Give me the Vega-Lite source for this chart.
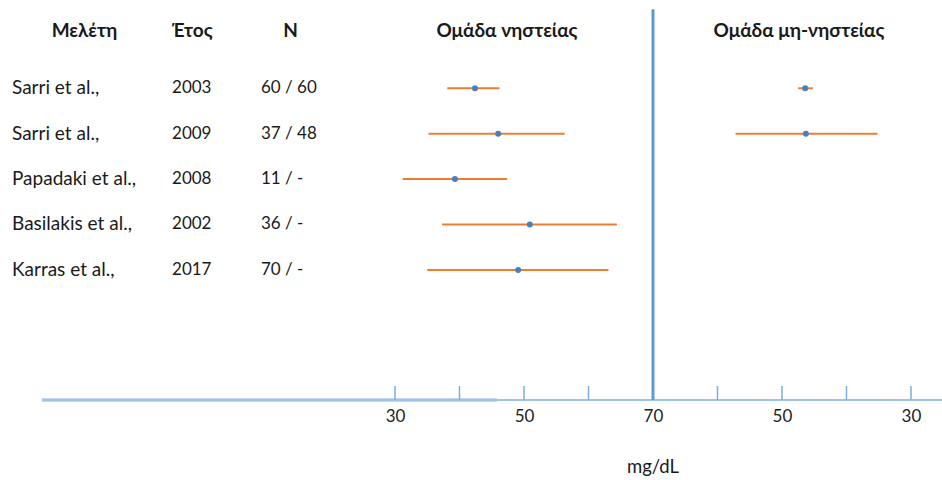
{
  "$schema": "https://vega.github.io/schema/vega-lite/v6.json",
  "width": 942,
  "height": 400,
  "autosize": {"type": "none"},
  "padding": {"left": 0, "top": 0, "right": 0, "bottom": 80},
  "background": "white",
  "config": {
    "view": {"stroke": null},
    "font": "Lato, Open Sans, sans-serif",
    "axis": {"domain": false, "ticks": false, "grid": false, "labelFontSize": 17, "labelPadding": 8, "labelColor": "#222222", "labelFont": "Lato, Open Sans, sans-serif"},
    "text": {"font": "Lato, Open Sans, sans-serif", "fontSize": 17, "color": "#1a1a1a"}
  },
  "datasets": {
    "studies": [
      {"row": 1, "study": "Sarri et al.,", "year": "2003", "n": "60 / 60", "fast_mean": 42.4, "fast_lo": 38.1, "fast_hi": 46.2, "non_mean": 46.4, "non_lo": 45.2, "non_hi": 47.5},
      {"row": 2, "study": "Sarri et al.,", "year": "2009", "n": "37 / 48", "fast_mean": 46.0, "fast_lo": 35.2, "fast_hi": 56.3, "non_mean": 46.3, "non_lo": 35.2, "non_hi": 57.2},
      {"row": 3, "study": "Papadaki et al.,", "year": "2008", "n": "11 / -", "fast_mean": 39.3, "fast_lo": 31.2, "fast_hi": 47.4, "non_mean": null, "non_lo": null, "non_hi": null},
      {"row": 4, "study": "Basilakis et al.,", "year": "2002", "n": "36 / -", "fast_mean": 50.9, "fast_lo": 37.3, "fast_hi": 64.4, "non_mean": null, "non_lo": null, "non_hi": null},
      {"row": 5, "study": "Karras et al.,", "year": "2017", "n": "70 / -", "fast_mean": 49.1, "fast_lo": 35.0, "fast_hi": 63.1, "non_mean": null, "non_lo": null, "non_hi": null}
    ],
    "leftTicks": [{"t": 30}, {"t": 40}, {"t": 50}, {"t": 60}],
    "rightTicks": [{"t": 60}, {"t": 50}, {"t": 40}, {"t": 30}],
    "one": [{"k": 1}]
  },
  "layer": [
    {
      "layer": [
        {
          "data": {"name": "one"},
          "mark": {"type": "rule", "color": "#aecdec", "strokeWidth": 3.5},
          "encoding": {
            "x": {"datum": -24.73, "type": "quantitative", "scale": {"domain": [-31.24, 114.81], "nice": false, "zero": false}, "axis": {"values": [30, 50, 70], "title": null, "orient": "bottom"}, "title": null},
            "x2": {"datum": 45.81},
            "y": {"datum": 7.866, "type": "quantitative", "scale": {"domain": [-0.945, 7.866], "reverse": true, "nice": false, "zero": false}, "axis": null}
          }
        },
        {
          "data": {"name": "one"},
          "mark": {"type": "rule", "color": "#9dc3e6", "strokeWidth": 2},
          "encoding": {
            "x": {"datum": -24.73, "type": "quantitative", "scale": {"domain": [-31.24, 114.81], "nice": false, "zero": false}, "axis": {"values": [30, 50, 70], "title": null, "orient": "bottom"}, "title": null},
            "x2": {"datum": 114.81},
            "y": {"datum": 7.866, "type": "quantitative", "scale": {"domain": [-0.945, 7.866], "reverse": true, "nice": false, "zero": false}, "axis": null}
          }
        },
        {
          "data": {"name": "leftTicks"},
          "mark": {"type": "rule", "color": "#7aaedc", "strokeWidth": 1.5},
          "encoding": {
            "x": {"field": "t", "type": "quantitative", "scale": {"domain": [-31.24, 114.81], "nice": false, "zero": false}, "axis": {"values": [30, 50, 70], "title": null, "orient": "bottom"}, "title": null},
            "y": {"datum": 7.557, "type": "quantitative", "scale": {"domain": [-0.945, 7.866], "reverse": true, "nice": false, "zero": false}, "axis": null},
            "y2": {"datum": 7.866}
          }
        },
        {
          "data": {"name": "one"},
          "mark": {"type": "rule", "color": "#5b9bd5", "strokeWidth": 3},
          "encoding": {
            "x": {"datum": 70, "type": "quantitative", "scale": {"domain": [-31.24, 114.81], "nice": false, "zero": false}, "axis": {"values": [30, 50, 70], "title": null, "orient": "bottom"}, "title": null},
            "y": {"datum": -0.74, "type": "quantitative", "scale": {"domain": [-0.945, 7.866], "reverse": true, "nice": false, "zero": false}, "axis": null},
            "y2": {"datum": 7.866}
          }
        },
        {
          "data": {"name": "studies"},
          "mark": {"type": "rule", "color": "#ed7d31", "strokeWidth": 2},
          "encoding": {
            "x": {"field": "fast_lo", "type": "quantitative", "scale": {"domain": [-31.24, 114.81], "nice": false, "zero": false}, "axis": {"values": [30, 50, 70], "title": null, "orient": "bottom"}, "title": null},
            "x2": {"field": "fast_hi"},
            "y": {"field": "row", "type": "quantitative", "scale": {"domain": [-0.945, 7.866], "reverse": true, "nice": false, "zero": false}, "axis": null}
          }
        },
        {
          "data": {"name": "studies"},
          "mark": {"type": "point", "filled": true, "color": "#4a7ebb", "size": 36, "opacity": 1},
          "encoding": {
            "x": {"field": "fast_mean", "type": "quantitative", "scale": {"domain": [-31.24, 114.81], "nice": false, "zero": false}, "axis": {"values": [30, 50, 70], "title": null, "orient": "bottom"}, "title": null},
            "y": {"field": "row", "type": "quantitative", "scale": {"domain": [-0.945, 7.866], "reverse": true, "nice": false, "zero": false}, "axis": null}
          }
        },
        {
          "data": {"name": "studies"},
          "mark": {"type": "text", "align": "left", "baseline": "middle", "fontSize": 19},
          "encoding": {
            "x": {"datum": -29.38, "type": "quantitative", "scale": {"domain": [-31.24, 114.81], "nice": false, "zero": false}, "axis": {"values": [30, 50, 70], "title": null, "orient": "bottom"}, "title": null},
            "y": {"field": "row", "type": "quantitative", "scale": {"domain": [-0.945, 7.866], "reverse": true, "nice": false, "zero": false}, "axis": null},
            "text": {"field": "study"}
          }
        },
        {
          "data": {"name": "studies"},
          "mark": {"type": "text", "align": "left", "baseline": "middle"},
          "encoding": {
            "x": {"datum": -4.57, "type": "quantitative", "scale": {"domain": [-31.24, 114.81], "nice": false, "zero": false}, "axis": {"values": [30, 50, 70], "title": null, "orient": "bottom"}, "title": null},
            "y": {"field": "row", "type": "quantitative", "scale": {"domain": [-0.945, 7.866], "reverse": true, "nice": false, "zero": false}, "axis": null},
            "text": {"field": "year"}
          }
        },
        {
          "data": {"name": "studies"},
          "mark": {"type": "text", "align": "left", "baseline": "middle"},
          "encoding": {
            "x": {"datum": 9.22, "type": "quantitative", "scale": {"domain": [-31.24, 114.81], "nice": false, "zero": false}, "axis": {"values": [30, 50, 70], "title": null, "orient": "bottom"}, "title": null},
            "y": {"field": "row", "type": "quantitative", "scale": {"domain": [-0.945, 7.866], "reverse": true, "nice": false, "zero": false}, "axis": null},
            "text": {"field": "n"}
          }
        },
        {
          "data": {"name": "one"},
          "mark": {"type": "text", "align": "center", "baseline": "middle", "fontWeight": "bold", "fontSize": 19},
          "encoding": {
            "x": {"datum": -18.14, "type": "quantitative", "scale": {"domain": [-31.24, 114.81], "nice": false, "zero": false}, "axis": {"values": [30, 50, 70], "title": null, "orient": "bottom"}, "title": null},
            "y": {"datum": -0.262, "type": "quantitative", "scale": {"domain": [-0.945, 7.866], "reverse": true, "nice": false, "zero": false}, "axis": null},
            "text": {"value": "Μελέτη"}
          }
        },
        {
          "data": {"name": "one"},
          "mark": {"type": "text", "align": "left", "baseline": "middle", "fontWeight": "bold", "fontSize": 19},
          "encoding": {
            "x": {"datum": -4.57, "type": "quantitative", "scale": {"domain": [-31.24, 114.81], "nice": false, "zero": false}, "axis": {"values": [30, 50, 70], "title": null, "orient": "bottom"}, "title": null},
            "y": {"datum": -0.262, "type": "quantitative", "scale": {"domain": [-0.945, 7.866], "reverse": true, "nice": false, "zero": false}, "axis": null},
            "text": {"value": "Έτος"}
          }
        },
        {
          "data": {"name": "one"},
          "mark": {"type": "text", "align": "center", "baseline": "middle", "fontWeight": "bold", "fontSize": 19},
          "encoding": {
            "x": {"datum": 13.8, "type": "quantitative", "scale": {"domain": [-31.24, 114.81], "nice": false, "zero": false}, "axis": {"values": [30, 50, 70], "title": null, "orient": "bottom"}, "title": null},
            "y": {"datum": -0.262, "type": "quantitative", "scale": {"domain": [-0.945, 7.866], "reverse": true, "nice": false, "zero": false}, "axis": null},
            "text": {"value": "N"}
          }
        },
        {
          "data": {"name": "one"},
          "mark": {"type": "text", "align": "center", "baseline": "middle", "fontWeight": "bold", "fontSize": 19},
          "encoding": {
            "x": {"datum": 47.36, "type": "quantitative", "scale": {"domain": [-31.24, 114.81], "nice": false, "zero": false}, "axis": {"values": [30, 50, 70], "title": null, "orient": "bottom"}, "title": null},
            "y": {"datum": -0.262, "type": "quantitative", "scale": {"domain": [-0.945, 7.866], "reverse": true, "nice": false, "zero": false}, "axis": null},
            "text": {"value": "Ομάδα νηστείας"}
          }
        },
        {
          "data": {"name": "one"},
          "mark": {"type": "text", "align": "center", "baseline": "middle", "fontSize": 18.5},
          "encoding": {
            "x": {"datum": 70, "type": "quantitative", "scale": {"domain": [-31.24, 114.81], "nice": false, "zero": false}, "axis": {"values": [30, 50, 70], "title": null, "orient": "bottom"}, "title": null},
            "y": {"datum": 9.341, "type": "quantitative", "scale": {"domain": [-0.945, 7.866], "reverse": true, "nice": false, "zero": false}, "axis": null},
            "text": {"value": "mg/dL"}
          }
        }
      ]
    },
    {
      "layer": [
        {
          "data": {"name": "rightTicks"},
          "mark": {"type": "rule", "color": "#7aaedc", "strokeWidth": 1.5},
          "encoding": {
            "x": {"field": "t", "type": "quantitative", "scale": {"domain": [25.19, 171.24], "reverse": true, "nice": false, "zero": false}, "axis": {"values": [50, 30], "title": null, "orient": "bottom"}, "title": null},
            "y": {"datum": 7.557, "type": "quantitative", "scale": {"domain": [-0.945, 7.866], "reverse": true, "nice": false, "zero": false}, "axis": null},
            "y2": {"datum": 7.866}
          }
        },
        {
          "data": {"name": "studies"},
          "transform": [{"filter": "isValid(datum.non_mean)"}],
          "mark": {"type": "rule", "color": "#ed7d31", "strokeWidth": 2},
          "encoding": {
            "x": {"field": "non_lo", "type": "quantitative", "scale": {"domain": [25.19, 171.24], "reverse": true, "nice": false, "zero": false}, "axis": {"values": [50, 30], "title": null, "orient": "bottom"}, "title": null},
            "x2": {"field": "non_hi"},
            "y": {"field": "row", "type": "quantitative", "scale": {"domain": [-0.945, 7.866], "reverse": true, "nice": false, "zero": false}, "axis": null}
          }
        },
        {
          "data": {"name": "studies"},
          "transform": [{"filter": "isValid(datum.non_mean)"}],
          "mark": {"type": "point", "filled": true, "color": "#4a7ebb", "size": 36, "opacity": 1},
          "encoding": {
            "x": {"field": "non_mean", "type": "quantitative", "scale": {"domain": [25.19, 171.24], "reverse": true, "nice": false, "zero": false}, "axis": {"values": [50, 30], "title": null, "orient": "bottom"}, "title": null},
            "y": {"field": "row", "type": "quantitative", "scale": {"domain": [-0.945, 7.866], "reverse": true, "nice": false, "zero": false}, "axis": null}
          }
        },
        {
          "data": {"name": "one"},
          "mark": {"type": "text", "align": "center", "baseline": "middle", "fontWeight": "bold", "fontSize": 19},
          "encoding": {
            "x": {"datum": 47.36, "type": "quantitative", "scale": {"domain": [25.19, 171.24], "reverse": true, "nice": false, "zero": false}, "axis": {"values": [50, 30], "title": null, "orient": "bottom"}, "title": null},
            "y": {"datum": -0.262, "type": "quantitative", "scale": {"domain": [-0.945, 7.866], "reverse": true, "nice": false, "zero": false}, "axis": null},
            "text": {"value": "Ομάδα μη-νηστείας"}
          }
        }
      ]
    }
  ],
  "resolve": {"scale": {"x": "independent"}, "axis": {"x": "independent"}}
}
